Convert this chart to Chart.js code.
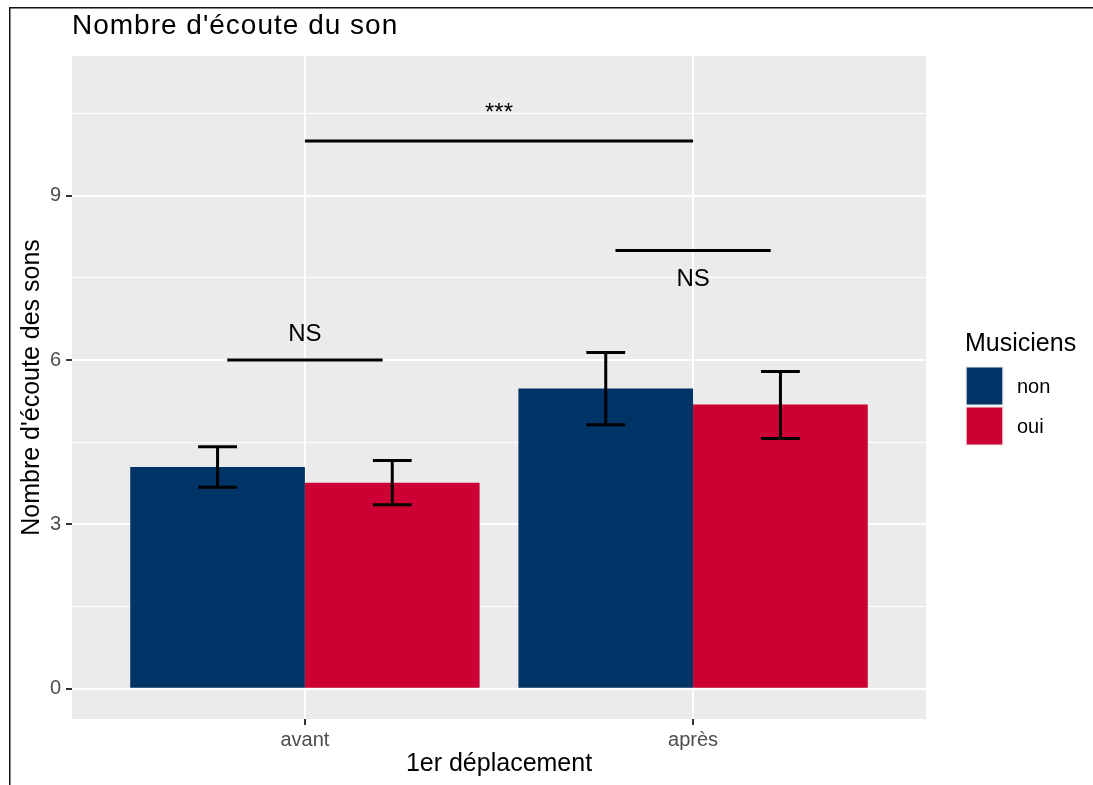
<!DOCTYPE html>
<html>
<head>
<meta charset="utf-8">
<script src="https://cdn.jsdelivr.net/npm/chart.js@4/dist/chart.umd.min.js"></script>
<style>
  html, body { margin: 0; padding: 0; background: #fff; }
  #wrap { width: 1093px; height: 785px; }
</style>
</head>
<body>
<div id="wrap"><canvas id="c" width="1093" height="785"></canvas></div>
<script>
// ---- data ----
const categories = ['avant', 'après'];
const groupNames = ['non', 'oui'];
const nonMeans = [4.05, 5.48];
const ouiMeans = [3.76, 5.19];
const nonLow = [3.68, 4.82];
const nonHigh = [4.42, 6.14];
const ouiLow = [3.36, 4.57];
const ouiHigh = [4.17, 5.79];
const yMajorTicks = [0, 3, 6, 9];
const yMinorTicks = [1.5, 4.5, 7.5, 10.5];
const sigStart = [0.8, 1.8, 1];
const sigEnd = [1.2, 2.2, 2];
const sigY = [6, 8, 10];
const sigLabels = ['NS', 'NS', '***'];
const sigLabelY = [6.35, 7.35, 10.38];

const FONT = '"Liberation Sans", Arial, Helvetica, sans-serif';
Chart.defaults.font.family = FONT;

const colors = ['#003366', '#CC0033'];
const lows = [nonLow, ouiLow];
const highs = [nonHigh, ouiHigh];

const decor = {
  id: 'decor',
  beforeDraw(chart) {
    const { ctx, chartArea: a } = chart;
    ctx.save();
    ctx.fillStyle = '#ffffff';
    ctx.fillRect(0, 0, chart.width, chart.height);
    ctx.fillStyle = '#EBEBEB';
    ctx.fillRect(a.left, a.top, a.right - a.left, a.bottom - a.top);
    // outer frame (left + top)
    ctx.fillStyle = '#111';
    ctx.fillRect(9, 7, chart.width - 9, 1.5);
    ctx.fillRect(9, 7, 1.5, chart.height - 7);
    ctx.restore();
  },
  afterDatasetsDraw(chart) {
    const { ctx } = chart;
    const xs = chart.scales.x, ys = chart.scales.y;
    ctx.save();
    ctx.strokeStyle = '#000';
    ctx.lineWidth = 3;
    ctx.lineCap = 'butt';
    const half = xs.getPixelForValue(1.05) - xs.getPixelForValue(1);
    chart.data.datasets.forEach((ds, d) => {
      const meta = chart.getDatasetMeta(d);
      meta.data.forEach((bar, i) => {
        const x = bar.x;
        const yl = ys.getPixelForValue(lows[d][i]);
        const yh = ys.getPixelForValue(highs[d][i]);
        ctx.beginPath();
        ctx.moveTo(x, yl); ctx.lineTo(x, yh);
        ctx.moveTo(x - half, yl); ctx.lineTo(x + half, yl);
        ctx.moveTo(x - half, yh); ctx.lineTo(x + half, yh);
        ctx.stroke();
      });
    });
    // significance bars
    ctx.fillStyle = '#000';
    ctx.font = '24px ' + FONT;
    ctx.textAlign = 'center';
    ctx.textBaseline = 'alphabetic';
    for (let k = 0; k < sigY.length; k++) {
      const x1 = xs.getPixelForValue(sigStart[k]);
      const x2 = xs.getPixelForValue(sigEnd[k]);
      const y = ys.getPixelForValue(sigY[k]);
      ctx.beginPath();
      ctx.moveTo(x1, y); ctx.lineTo(x2, y);
      ctx.stroke();
      ctx.fillText(sigLabels[k], (x1 + x2) / 2, ys.getPixelForValue(sigLabelY[k]));
    }
    ctx.restore();
  },
  afterDraw(chart) {
    const { ctx, chartArea: a } = chart;
    ctx.save();
    // title
    ctx.fillStyle = '#000';
    ctx.font = '28px ' + FONT;
    ctx.textAlign = 'left';
    ctx.textBaseline = 'alphabetic';
    try { ctx.letterSpacing = '1px'; } catch (e) {}
    ctx.fillText("Nombre d'écoute du son", a.left, 34);
    try { ctx.letterSpacing = '0px'; } catch (e) {}
    // legend
    const lx = 965, ly = 366, key = 40;
    ctx.font = '25px ' + FONT;
    ctx.fillText('Musiciens', lx, 351);
    ctx.font = '20px ' + FONT;
    ctx.textBaseline = 'middle';
    chart.data.datasets.forEach((ds, d) => {
      const top = ly + d * key;
      ctx.fillStyle = '#F2F2F2';
      ctx.fillRect(lx, top, 39, key);
      ctx.fillStyle = ds.backgroundColor;
      ctx.fillRect(lx + 1.7, top + 1.5, 39 - 3.4, key - 3);
      ctx.fillStyle = '#000';
      ctx.fillText(ds.label, 1017, top + key / 2 + 1);
    });
    ctx.restore();
  }
};

new Chart(document.getElementById('c'), {
  type: 'bar',
  data: {
    datasets: groupNames.map((g, d) => ({
      label: g,
      data: categories.map((c, i) => ({ x: i + 1, y: [nonMeans, ouiMeans][d][i] })),
      backgroundColor: colors[d],
      borderWidth: 0,
      categoryPercentage: 0.9,
      barPercentage: 1.0
    }))
  },
  options: {
    responsive: false,
    animation: false,
    devicePixelRatio: 1,
    layout: { padding: { left: 0, right: 167, top: 56, bottom: 0 } },
    plugins: { legend: { display: false }, tooltip: { enabled: false }, title: { display: false } },
    scales: {
      x: {
        type: 'linear',
        offset: false,
        min: 0.4,
        max: 2.6,
        afterBuildTicks: s => { s.ticks = categories.map((c, i) => ({ value: i + 1 })); },
        afterFit: s => { s.height = 66; },
        ticks: {
          callback: v => categories[v - 1],
          font: { size: 20 },
          color: '#4d4d4d',
          padding: 3,
          autoSkip: false,
          maxRotation: 0
        },
        grid: { offset: false, color: '#ffffff', lineWidth: 2, tickColor: '#333333', tickLength: 6, tickWidth: 2 },
        border: { display: false },
        title: { display: true, text: '1er déplacement', font: { size: 25 }, color: '#000', padding: { top: 0, bottom: 6 } }
      },
      y: {
        min: -0.55,
        max: 11.55,
        afterBuildTicks: s => {
          s.ticks = yMajorTicks.concat(yMinorTicks).sort((p, q) => p - q).map(v => ({ value: v }));
        },
        afterFit: s => { s.width = 72; },
        ticks: {
          callback: v => (yMajorTicks.includes(v) ? String(v) : ''),
          font: { size: 20 },
          color: '#4d4d4d',
          padding: 5,
          autoSkip: false
        },
        grid: {
          color: '#ffffff',
          lineWidth: c => (c.tick && yMajorTicks.includes(c.tick.value) ? 2 : 1),
          tickColor: c => (c.tick && yMajorTicks.includes(c.tick.value) ? '#333333' : 'rgba(0,0,0,0)'),
          tickLength: 6,
          tickWidth: 2
        },
        border: { display: false },
        title: { display: true, text: "Nombre d'écoute des sons", font: { size: 25 }, color: '#000', padding: { top: 17, bottom: 0 } }
      }
    }
  },
  plugins: [decor]
});
</script>
</body>
</html>
